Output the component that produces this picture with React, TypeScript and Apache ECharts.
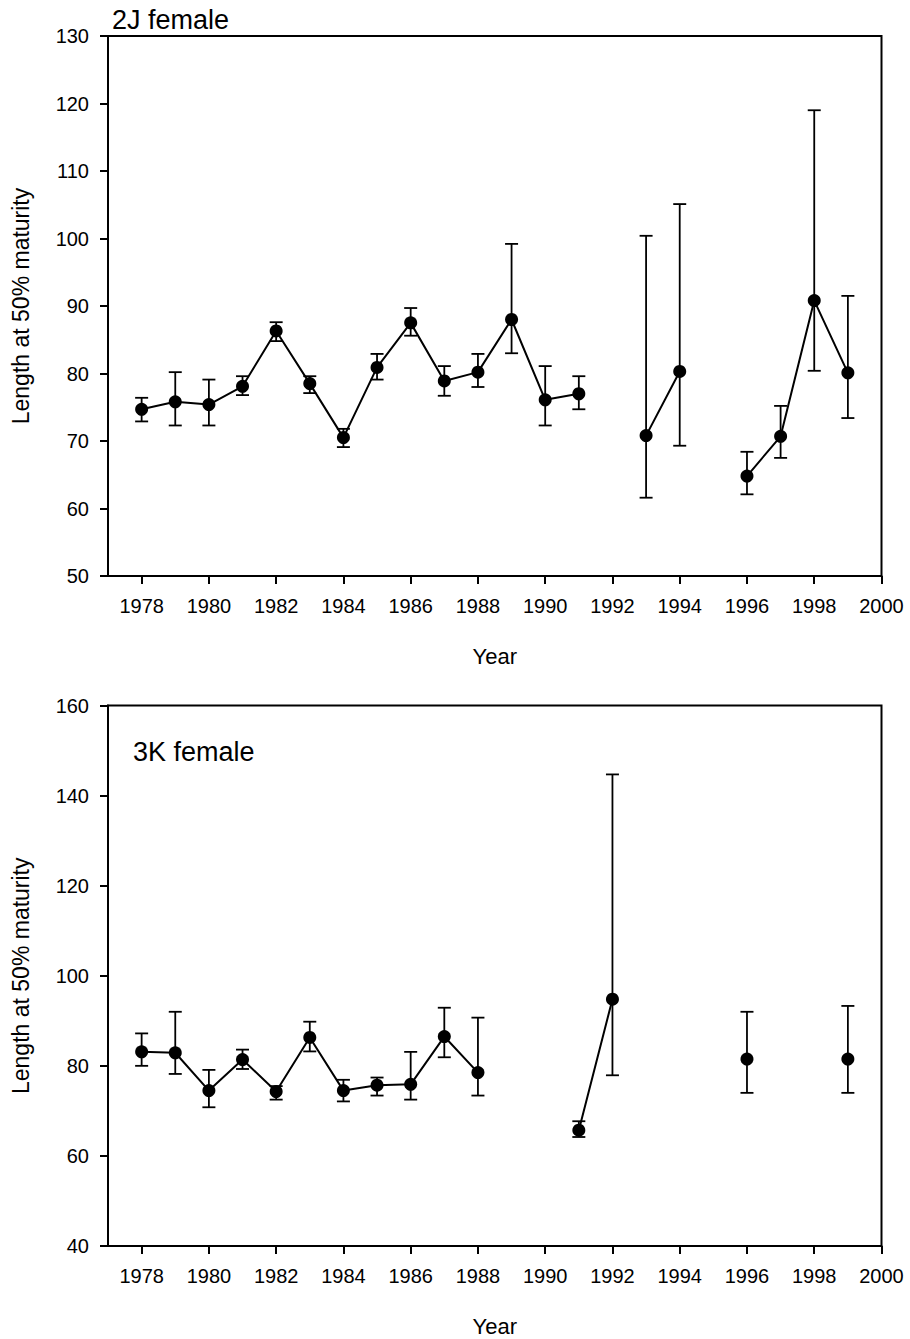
import React, { useEffect, useRef } from "react";
import * as echarts from "echarts";

const years = [1978, 1979, 1980, 1981, 1982, 1983, 1984, 1985, 1986, 1987, 1988, 1989, 1990, 1991, 1992, 1993, 1994, 1995, 1996, 1997, 1998, 1999];

const mean2J = [74.7, 75.8, 75.4, 78.1, 86.3, 78.5, 70.5, 80.9, 87.5, 78.9, 80.2, 88.0, 76.1, 77.0, null, 70.8, 80.3, null, 64.8, 70.7, 90.8, 80.1];
const lower2J = [72.9, 72.3, 72.3, 76.8, 84.8, 77.1, 69.1, 79.1, 85.6, 76.7, 78.0, 83.0, 72.3, 74.7, null, 61.6, 69.3, null, 62.1, 67.5, 80.4, 73.4];
const upper2J = [76.4, 80.2, 79.1, 79.6, 87.6, 79.6, 71.8, 82.9, 89.7, 81.1, 82.9, 99.2, 81.1, 79.6, null, 100.4, 105.1, null, 68.4, 75.2, 119.0, 91.5];

const mean3K = [83.1, 82.9, 74.5, 81.4, 74.3, 86.3, 74.5, 75.7, 75.9, 86.5, 78.5, null, null, 65.7, 94.8, null, null, null, 81.5, null, null, 81.5];
const lower3K = [80.0, 78.2, 70.8, 79.3, 72.5, 83.2, 72.1, 73.4, 72.5, 81.9, 73.4, null, null, 64.2, 77.9, null, null, null, 74.0, null, null, 74.0];
const upper3K = [87.2, 92.0, 79.1, 83.6, 75.5, 89.8, 76.9, 77.4, 83.1, 92.9, 90.7, null, null, 67.7, 144.7, null, null, null, 92.0, null, null, 93.3];

const xTicks = [1978, 1980, 1982, 1984, 1986, 1988, 1990, 1992, 1994, 1996, 1998, 2000];

const panelLabels = ["2J female", "3K female"];
const xTitle = "Year";
const yTitle = "Length at 50% maturity";

const FONT = "'Liberation Sans', Arial, Helvetica, sans-serif";

function lineData(mean: (number | null)[]) {
  return years.map((y, i) => [y, mean[i] == null ? "-" : mean[i]]);
}
function errData(lo: (number | null)[], hi: (number | null)[]) {
  const out: number[][] = [];
  years.forEach((y, i) => {
    if (lo[i] != null && hi[i] != null) out.push([y, lo[i] as number, hi[i] as number]);
  });
  return out;
}

const renderErr = (params: any, api: any) => {
  const x = api.value(0);
  const top = api.coord([x, api.value(2)]);
  const bot = api.coord([x, api.value(1)]);
  const w = 6.5;
  const st = { stroke: "#000", lineWidth: 1.8 };
  return {
    type: "group",
    children: [
      { type: "line", shape: { x1: top[0], y1: top[1], x2: bot[0], y2: bot[1] }, style: st },
      { type: "line", shape: { x1: top[0] - w, y1: top[1], x2: top[0] + w, y2: top[1] }, style: st },
      { type: "line", shape: { x1: bot[0] - w, y1: bot[1], x2: bot[0] + w, y2: bot[1] }, style: st },
    ],
  };
};

function xAxis(gridIndex: number) {
  return {
    type: "value",
    gridIndex,
    min: 1977,
    max: 2000,
    name: xTitle,
    nameLocation: "middle",
    nameGap: 69,
    nameTextStyle: { fontSize: 22, color: "#000", fontFamily: FONT },
    axisLine: { show: true, onZero: false, lineStyle: { color: "#000", width: 2 } },
    axisTick: { show: true, length: 8, lineStyle: { color: "#000", width: 2 }, customValues: xTicks },
    axisLabel: {
      fontSize: 20,
      color: "#000",
      fontFamily: FONT,
      margin: 20,
      customValues: xTicks,
      formatter: (v: number) => String(v),
    },
    splitLine: { show: false },
  };
}
function yAxis(gridIndex: number, min: number, max: number, interval: number) {
  return {
    type: "value",
    gridIndex,
    min,
    max,
    interval,
    name: yTitle,
    nameLocation: "middle",
    nameGap: 76,
    nameTextStyle: { fontSize: 23, color: "#000", fontFamily: FONT },
    axisLine: { show: true, onZero: false, lineStyle: { color: "#000", width: 2 } },
    axisTick: { show: true, length: 8, lineStyle: { color: "#000", width: 2 } },
    axisLabel: { fontSize: 20, color: "#000", fontFamily: FONT, margin: 19, formatter: (v: number) => String(v) },
    splitLine: { show: false },
  };
}

function lineSeries(idx: number, mean: (number | null)[]) {
  return {
    type: "line",
    xAxisIndex: idx,
    yAxisIndex: idx,
    data: lineData(mean),
    connectNulls: false,
    symbol: "circle",
    symbolSize: 13,
    showAllSymbol: true,
    itemStyle: { color: "#000" },
    lineStyle: { color: "#000", width: 2 },
    z: 3,
  };
}
function errSeries(idx: number, lo: (number | null)[], hi: (number | null)[]) {
  return {
    type: "custom",
    xAxisIndex: idx,
    yAxisIndex: idx,
    data: errData(lo, hi),
    encode: { x: 0, y: [1, 2] },
    renderItem: renderErr,
    z: 2,
  };
}

export default function App() {
  const ref = useRef<HTMLDivElement>(null);
  useEffect(() => {
    document.body.style.margin = "0";
    if (!ref.current) return;
    const chart = echarts.init(ref.current, null, { renderer: "svg" });
    chart.setOption({
      animation: false,
      backgroundColor: "#fff",
      grid: [
        { left: 108, top: 36, width: 773.5, height: 540, show: true, borderColor: "#000", borderWidth: 2, containLabel: false },
        { left: 108, top: 705.5, width: 773.5, height: 540.5, show: true, borderColor: "#000", borderWidth: 2, containLabel: false },
      ],
      xAxis: [xAxis(0), xAxis(1)],
      yAxis: [yAxis(0, 50, 130, 10), yAxis(1, 40, 160, 20)],
      series: [
        errSeries(0, lower2J, upper2J),
        lineSeries(0, mean2J),
        errSeries(1, lower3K, upper3K),
        lineSeries(1, mean3K),
      ],
      graphic: [
        { type: "text", left: 112, top: 6, style: { text: panelLabels[0], fontSize: 27, fill: "#000", fontFamily: FONT } },
        { type: "text", left: 133, top: 738, style: { text: panelLabels[1], fontSize: 27, fill: "#000", fontFamily: FONT } },
      ],
    });
    return () => chart.dispose();
  }, []);
  return <div ref={ref} style={{ width: 910, height: 1339 }} />;
}
